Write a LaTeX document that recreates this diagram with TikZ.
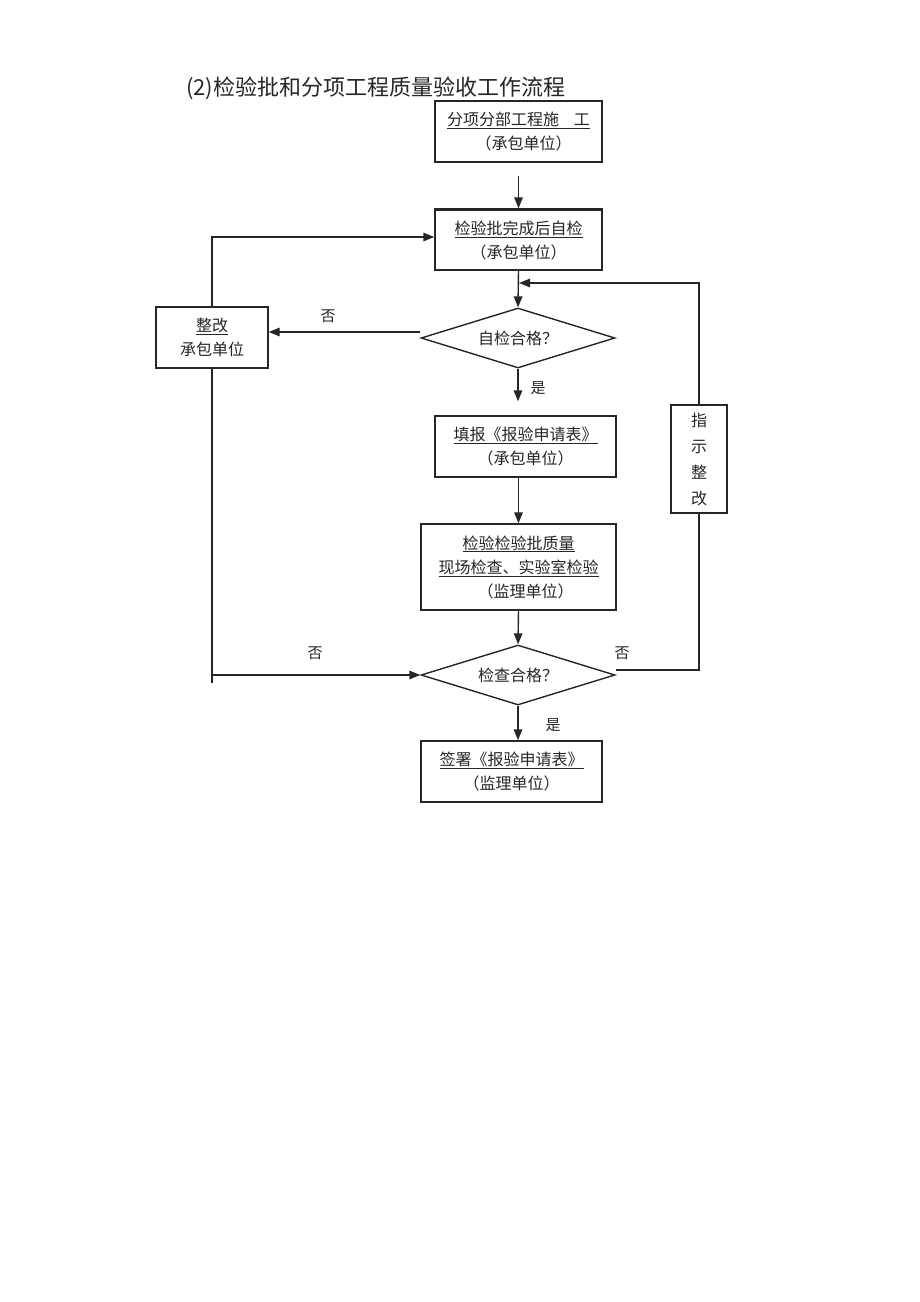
\documentclass[tikz,border=0pt]{standalone}
\usepackage{fontspec}
\setmainfont{Noto Sans CJK SC}
\usetikzlibrary{shapes.geometric,arrows.meta}
\definecolor{ink}{gray}{0.15}
\begin{document}
\begin{tikzpicture}[x=1pt,y=-1pt,
  box/.style={draw=ink, line width=1.4pt, rectangle, inner sep=0pt, align=center,
    font=\fontsize{16}{24}\selectfont, text=ink},
  dia/.style={draw=ink, line width=1.4pt, diamond, aspect=3.2, inner sep=0pt,
    minimum width=194pt, minimum height=60pt, font=\fontsize{16}{24}\selectfont, text=ink},
  arr/.style={draw=ink, line width=1.4pt, -{Triangle[length=11pt,width=8.5pt]}},
  ln/.style={draw=ink, line width=1.4pt},
  lbl/.style={font=\fontsize{15}{15}\selectfont, text=ink, inner sep=0pt}]
\useasboundingbox[fill=white] (0,0) rectangle (920,1302);

% title
\node[anchor=west, inner sep=0pt, font=\fontsize{22}{24}\selectfont, text=ink] (title) at (186,88)
  {(2)检验批和分项工程质量验收工作流程};

% boxes
\node[box, minimum width=167pt, minimum height=61pt] (b1) at (518.5,131.5)
  {\underline{分项分部工程施\hspace{15pt}工}\\\hspace{10pt}（承包单位）};
\node[box, minimum width=167pt, minimum height=60pt] (b2) at (518.5,240)
  {\underline{检验批完成后自检}\\（承包单位）};
\node[dia] (d1) at (518,338) {自检合格？};
\node[box, minimum width=112pt, minimum height=61pt] (zg) at (212,337.5)
  {\underline{整改}\\承包单位};
\node[box, minimum width=181pt, minimum height=61pt] (b3) at (525.5,446.5)
  {\underline{填报《报验申请表》}\\（承包单位）};
\node[box, minimum width=195pt, minimum height=86pt] (b4) at (518.5,567)
  {\underline{检验检验批质量}\\\underline{现场检查、实验室检验}\\\hspace{14pt}（监理单位）};
\node[dia] (d2) at (518,675) {检查合格？};
\node[box, minimum width=181pt, minimum height=61pt] (b5) at (511.5,771.5)
  {\underline{签署《报验申请表》}\\（监理单位）};
\node[box, minimum width=56pt, minimum height=108pt, font=\fontsize{16}{26}\selectfont] (zs) at (699,459)
  {指\\示\\整\\改};

% thicker top edge of b2
\draw[ink, line width=2.2pt] (b2.north west) -- (b2.north east);

% coordinates
\coordinate (fb) at (519,283);
\coordinate (stub) at (212,683);

% connectors
\draw[arr, shorten <=13pt, shorten >=1pt] (b1.south) -- (b2.north);
\draw[arr] (b2.south) -- (d1.north);
\draw[arr] (zs.north) |- (fb);
\draw[arr] ([yshift=6pt]d1.west) -- ([yshift=6pt]d1.west -| zg.east);
\draw[arr] (zg.north) |- ([yshift=3pt]b2.west);
\draw[ln] (zg.south) -- (stub);
\draw[arr] (zg.south |- d2.west) -- (d2.west);
\draw[arr, shorten >=14pt] (d1.south) -- (b3.north -| d1.south);
\draw[arr] (b3.south -| b4.north) -- (b4.north);
\draw[arr] (b4.south) -- (d2.north);
\draw[arr] (d2.south) -- (b5.north -| d2.south);
\draw[ln] ([yshift=5pt]d2.east) -| (zs.south);

% labels
\node[lbl] (n1) at (328,316) {否};
\node[lbl] (y1) at (538,388) {是};
\node[lbl] (n2) at (315,653) {否};
\node[lbl] (n3) at (622,653) {否};
\node[lbl] (y2) at (553,725) {是};
\end{tikzpicture}
\end{document}
